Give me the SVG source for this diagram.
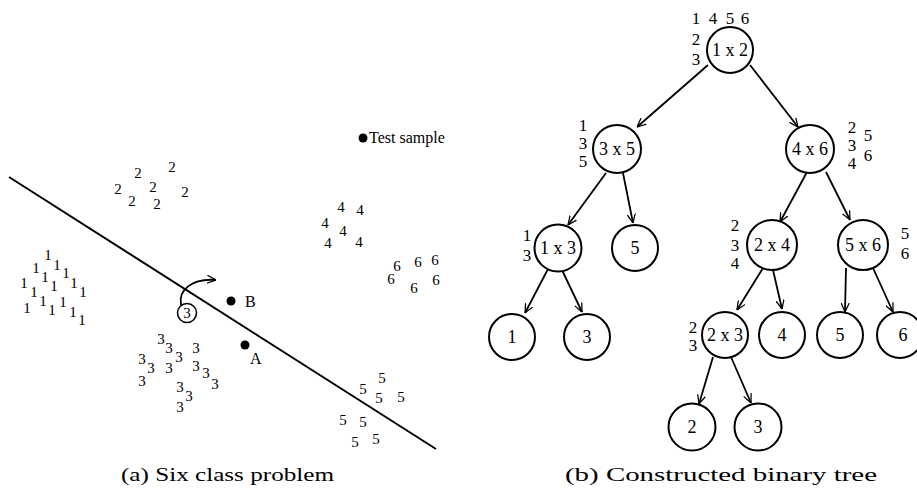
<svg xmlns="http://www.w3.org/2000/svg" width="917" height="500" viewBox="0 0 917 500">
<style>
.d{font-family:"Liberation Serif","Times New Roman",serif;font-size:15px;text-anchor:middle;fill:#000}
.t{font-family:"Liberation Serif","Times New Roman",serif;font-size:18px;text-anchor:middle;fill:#000}
.s{font-family:"Liberation Serif","Times New Roman",serif;font-size:17px;text-anchor:middle;fill:#000}
.lbl{font-family:"Liberation Serif","Times New Roman",serif;font-size:16px;fill:#000}
.cap{font-family:"Liberation Serif","Times New Roman",serif;font-size:19px;fill:#000}
.n{fill:#fff;stroke:#000;stroke-width:2}
.e{stroke:#000;stroke-width:1.8;fill:none}
</style>
<defs>
<marker id="ah" viewBox="0 0 10 10" refX="10" refY="5" markerWidth="9" markerHeight="9" markerUnits="userSpaceOnUse" orient="auto">
<path d="M0,0.5 L10,5 L0,9.5" fill="none" stroke="#000" stroke-width="1.4"/>
</marker>
</defs>
<rect width="917" height="500" fill="#fff"/>

<g id="scatter">
<line x1="9" y1="177" x2="436" y2="449" stroke="#000" stroke-width="2"/>
<g id="class1">
<text class="d" x="48" y="260">1</text><text class="d" x="36" y="273">1</text><text class="d" x="57" y="270">1</text><text class="d" x="66" y="278">1</text>
<text class="d" x="45" y="282">1</text><text class="d" x="24" y="288">1</text><text class="d" x="74" y="288">1</text><text class="d" x="54" y="291">1</text>
<text class="d" x="34" y="297">1</text><text class="d" x="83" y="297">1</text><text class="d" x="43" y="306">1</text><text class="d" x="63" y="307">1</text>
<text class="d" x="27" y="313">1</text><text class="d" x="52" y="315">1</text><text class="d" x="73" y="317">1</text><text class="d" x="82" y="325">1</text>
</g>
<g id="class2">
<text class="d" x="138" y="178">2</text><text class="d" x="172" y="172">2</text><text class="d" x="118" y="194">2</text><text class="d" x="153" y="192">2</text>
<text class="d" x="185" y="197">2</text><text class="d" x="132" y="206">2</text><text class="d" x="157" y="209">2</text>
</g>
<g id="class3">
<text class="d" x="161" y="344">3</text><text class="d" x="169" y="353">3</text><text class="d" x="196" y="353">3</text><text class="d" x="179" y="362">3</text>
<text class="d" x="142" y="364">3</text><text class="d" x="151" y="373">3</text><text class="d" x="169" y="373">3</text><text class="d" x="196" y="371">3</text>
<text class="d" x="206" y="378">3</text><text class="d" x="215" y="389">3</text><text class="d" x="142" y="386">3</text><text class="d" x="180" y="392">3</text>
<text class="d" x="189" y="401">3</text><text class="d" x="180" y="412">3</text>
</g>
<g id="class4">
<text class="d" x="341" y="212">4</text><text class="d" x="360" y="215">4</text><text class="d" x="325" y="228">4</text>
<text class="d" x="343" y="236">4</text><text class="d" x="328" y="248">4</text><text class="d" x="359" y="247">4</text>
</g>
<g id="class5">
<text class="d" x="382" y="383">5</text><text class="d" x="363" y="394">5</text><text class="d" x="379" y="403">5</text><text class="d" x="401" y="402">5</text>
<text class="d" x="343" y="425">5</text><text class="d" x="363" y="427">5</text><text class="d" x="355" y="447">5</text><text class="d" x="376" y="444">5</text>
</g>
<g id="class6">
<text class="d" x="397" y="271">6</text><text class="d" x="418" y="267">6</text><text class="d" x="435" y="265">6</text>
<text class="d" x="391" y="284">6</text><text class="d" x="436" y="285">6</text><text class="d" x="414" y="293">6</text>
</g>
<g id="circled3">
<circle cx="187" cy="313" r="9.5" fill="#fff" stroke="#000" stroke-width="1.5"/>
<text class="d" x="187" y="318">3</text>
<path d="M181,305 C178,290 192,278 216,280" class="e" stroke-width="1.5" marker-end="url(#ah)"/>
</g>
<g id="pointB"><circle cx="231" cy="301" r="4.5" fill="#000"/><text class="lbl" x="245" y="307">B</text></g>
<g id="pointA"><circle cx="245" cy="345" r="4.5" fill="#000"/><text class="lbl" x="250" y="364">A</text></g>
<g id="testsample"><circle cx="363" cy="138" r="4.5" fill="#000"/><text class="lbl" x="369" y="143">Test sample</text></g>
</g>

<g id="connectors">
<line class="e" x1="708" y1="65" x2="637" y2="127" marker-end="url(#ah)"/>
<line class="e" x1="750" y1="65" x2="798" y2="127" marker-end="url(#ah)"/>
<line class="e" x1="606" y1="173" x2="568" y2="225" marker-end="url(#ah)"/>
<line class="e" x1="623" y1="173" x2="633" y2="223" marker-end="url(#ah)"/>
<line class="e" x1="807" y1="172" x2="780" y2="222" marker-end="url(#ah)"/>
<line class="e" x1="826" y1="172" x2="850" y2="220" marker-end="url(#ah)"/>
<line class="e" x1="548" y1="269" x2="525" y2="313" marker-end="url(#ah)"/>
<line class="e" x1="562" y1="270" x2="582" y2="312" marker-end="url(#ah)"/>
<line class="e" x1="763" y1="268" x2="737" y2="310" marker-end="url(#ah)"/>
<line class="e" x1="773" y1="270" x2="782" y2="309" marker-end="url(#ah)"/>
<line class="e" x1="846" y1="268" x2="845" y2="312" marker-end="url(#ah)"/>
<line class="e" x1="873" y1="268" x2="893" y2="312" marker-end="url(#ah)"/>
<line class="e" x1="713" y1="357" x2="699" y2="404" marker-end="url(#ah)"/>
<line class="e" x1="731" y1="357" x2="751" y2="403" marker-end="url(#ah)"/>
</g>

<g id="n12"><circle class="n" cx="730" cy="50" r="23"/><text class="t" x="730" y="56">1 x 2</text>
<text class="s" x="696" y="24">1</text><text class="s" x="713" y="24">4</text><text class="s" x="730" y="24">5</text><text class="s" x="745" y="24">6</text>
<text class="s" x="696" y="45">2</text><text class="s" x="696" y="65">3</text></g>
<g id="n35"><circle class="n" cx="617" cy="149" r="24"/><text class="t" x="617" y="155">3 x 5</text>
<text class="s" x="583" y="131">1</text><text class="s" x="583" y="149">3</text><text class="s" x="583" y="167">5</text></g>
<g id="n46"><circle class="n" cx="810" cy="149" r="24"/><text class="t" x="810" y="155">4 x 6</text>
<text class="s" x="852" y="133">2</text><text class="s" x="852" y="151">3</text><text class="s" x="852" y="169">4</text>
<text class="s" x="868" y="141">5</text><text class="s" x="868" y="161">6</text></g>
<g id="n13"><circle class="n" cx="558" cy="248" r="23.5"/><text class="t" x="558" y="254">1 x 3</text>
<text class="s" x="527" y="241">1</text><text class="s" x="527" y="261">3</text></g>
<g id="l5a"><circle class="n" cx="635" cy="248" r="23"/><text class="t" x="635" y="254">5</text></g>
<g id="n24"><circle class="n" cx="772" cy="245" r="25"/><text class="t" x="772" y="251">2 x 4</text>
<text class="s" x="735" y="231">2</text><text class="s" x="735" y="251">3</text><text class="s" x="735" y="269">4</text></g>
<g id="n56"><circle class="n" cx="863" cy="245" r="25"/><text class="t" x="863" y="251">5 x 6</text>
<text class="s" x="905" y="239">5</text><text class="s" x="905" y="259">6</text></g>
<g id="l1"><circle class="n" cx="512" cy="337" r="23"/><text class="t" x="512" y="343">1</text></g>
<g id="l3a"><circle class="n" cx="587" cy="337" r="23"/><text class="t" x="587" y="343">3</text></g>
<g id="n23"><circle class="n" cx="725" cy="335" r="23"/><text class="t" x="725" y="341">2 x 3</text>
<text class="s" x="693" y="333">2</text><text class="s" x="693" y="351">3</text></g>
<g id="l4"><circle class="n" cx="782" cy="335" r="23"/><text class="t" x="782" y="341">4</text></g>
<g id="l5b"><circle class="n" cx="840" cy="335" r="23"/><text class="t" x="840" y="341">5</text></g>
<g id="l6"><circle class="n" cx="900" cy="335" r="23"/><text class="t" x="903" y="341">6</text></g>
<g id="l2"><circle class="n" cx="692" cy="427" r="23.5"/><text class="t" x="692" y="433">2</text></g>
<g id="l3b"><circle class="n" cx="758" cy="427" r="23.5"/><text class="t" x="758" y="433">3</text></g>

<text class="cap" x="121" y="481" textLength="213" lengthAdjust="spacingAndGlyphs">(a) Six class problem</text>
<text class="cap" x="565" y="481" textLength="312" lengthAdjust="spacingAndGlyphs">(b) Constructed binary tree</text>
</svg>
